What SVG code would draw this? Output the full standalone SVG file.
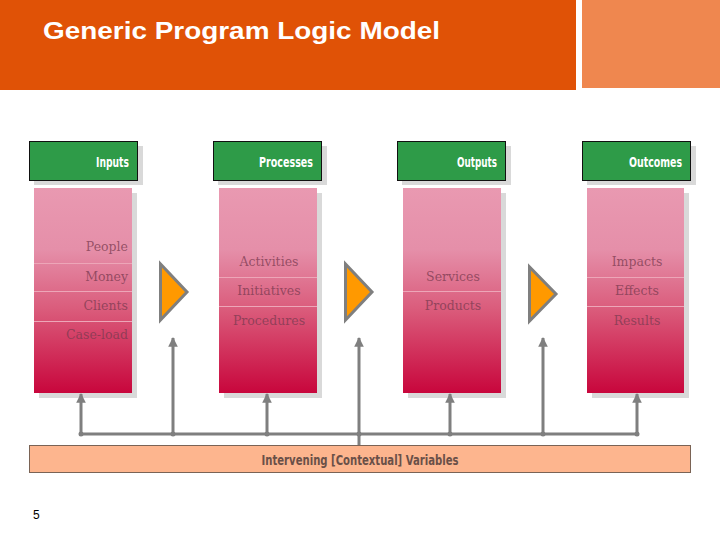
<svg xmlns="http://www.w3.org/2000/svg" width="720" height="540" viewBox="0 0 720 540">
<defs>
<linearGradient id="pink" x1="0" y1="0" x2="0" y2="1">
<stop offset="0" stop-color="#e999b1"/>
<stop offset="0.3" stop-color="#e58fa9"/>
<stop offset="0.6" stop-color="#da5a7a"/>
<stop offset="1" stop-color="#c8063c"/>
</linearGradient>
<marker id="ah" viewBox="0 0 10 10" refX="9" refY="5" markerWidth="3.2" markerHeight="3.2" orient="auto" markerUnits="strokeWidth">
<path d="M0,0 L10,5 L0,10 z" fill="#7f7f7f"/>
</marker>
<style>
.shadow{fill:#d9d9d9}
.hdr{fill:#2e9b48;stroke:#111;stroke-width:1}
.hdrt{font-family:"DejaVu Sans Condensed","DejaVu Sans",sans-serif;font-weight:bold;font-size:14px;fill:#fff;text-anchor:end}
.col{fill:url(#pink)}
.div{stroke:#eda6b8;stroke-width:1}
.item{font-family:"DejaVu Serif","Liberation Serif",serif;font-size:12.5px;fill:#7a3a50;fill-opacity:0.75}
.c{text-anchor:middle}
.r{text-anchor:end}
.tri{fill:#ff9900;stroke:#7f7f7f;stroke-width:3;stroke-linejoin:miter}
.ln{stroke:#7f7f7f;stroke-width:3;fill:none}
.dot{fill:#7f7f7f}
</style>
</defs>
<rect width="720" height="540" fill="#fff"/>
<g id="header">
<rect x="0" y="0" width="576" height="90" fill="#e05206"/>
<rect x="582" y="0" width="138" height="88" fill="#ef874f"/>
<text x="43" y="39" font-family="Liberation Sans, Arial, sans-serif" font-weight="bold" font-size="24" fill="#fff" textLength="397" lengthAdjust="spacingAndGlyphs">Generic Program Logic Model</text>
</g>

<g id="inputs">
<rect class="shadow" x="34" y="146" width="109" height="39"/>
<rect class="hdr" x="29.5" y="141.5" width="108" height="39"/>
<text class="hdrt" x="129" y="166.5" textLength="33" lengthAdjust="spacingAndGlyphs">Inputs</text>
<rect class="shadow" x="39" y="193" width="98" height="205"/>
<rect class="col" x="34" y="188" width="98" height="205"/>
<line class="div" x1="34" y1="263.5" x2="132" y2="263.5"/>
<line class="div" x1="34" y1="291.5" x2="132" y2="291.5"/>
<line class="div" x1="34" y1="321.5" x2="132" y2="321.5"/>
<text class="item r" x="128" y="251">People</text>
<text class="item r" x="128" y="281">Money</text>
<text class="item r" x="128" y="310">Clients</text>
<text class="item r" x="128" y="339">Case-load</text>
</g>

<g id="processes">
<rect class="shadow" x="218" y="146" width="109" height="39"/>
<rect class="hdr" x="213.5" y="141.5" width="108" height="39"/>
<text class="hdrt" x="313" y="166.5" textLength="54" lengthAdjust="spacingAndGlyphs">Processes</text>
<rect class="shadow" x="224" y="193" width="98" height="205"/>
<rect class="col" x="219" y="188" width="98" height="205"/>
<line class="div" x1="219" y1="277.5" x2="317" y2="277.5"/>
<line class="div" x1="219" y1="306.5" x2="317" y2="306.5"/>
<text class="item c" x="269" y="266">Activities</text>
<text class="item c" x="269" y="295">Initiatives</text>
<text class="item c" x="269" y="325">Procedures</text>
</g>

<g id="outputs">
<rect class="shadow" x="402" y="146" width="109" height="39"/>
<rect class="hdr" x="397.5" y="141.5" width="108" height="39"/>
<text class="hdrt" x="497" y="166.5" textLength="40" lengthAdjust="spacingAndGlyphs">Outputs</text>
<rect class="shadow" x="408" y="193" width="98" height="205"/>
<rect class="col" x="403" y="188" width="98" height="205"/>
<line class="div" x1="403" y1="291.5" x2="501" y2="291.5"/>
<text class="item c" x="453" y="281">Services</text>
<text class="item c" x="453" y="310">Products</text>
</g>

<g id="outcomes">
<rect class="shadow" x="587" y="146" width="109" height="39"/>
<rect class="hdr" x="582.5" y="141.5" width="108" height="39"/>
<text class="hdrt" x="682" y="166.5" textLength="53" lengthAdjust="spacingAndGlyphs">Outcomes</text>
<rect class="shadow" x="592" y="193" width="97" height="205"/>
<rect class="col" x="587" y="188" width="97" height="205"/>
<line class="div" x1="587" y1="277.5" x2="684" y2="277.5"/>
<line class="div" x1="587" y1="306.5" x2="684" y2="306.5"/>
<text class="item c" x="637" y="266">Impacts</text>
<text class="item c" x="637" y="295">Effects</text>
<text class="item c" x="637" y="325">Results</text>
</g>

<g id="flow-arrows">
<polygon class="tri" points="160.5,264 160.5,320 187,292"/>
<polygon class="tri" points="345.5,264 345.5,320 372,292"/>
<polygon class="tri" points="529.5,267 529.5,321 556,294"/>
</g>

<g id="intervening">
<rect x="29.5" y="445.5" width="661" height="27" fill="#fdb58e" stroke="#7a6355" stroke-width="1"/>
<text x="360" y="465" text-anchor="middle" font-family="DejaVu Sans Condensed, DejaVu Sans, sans-serif" font-weight="bold" font-size="14" fill="#6a5048" textLength="197" lengthAdjust="spacingAndGlyphs">Intervening [Contextual] Variables</text>
</g>

<g id="connectors">
<line class="ln" x1="81" y1="434" x2="637" y2="434"/>
<line class="ln" x1="359" y1="434" x2="359" y2="445"/>
<line class="ln" x1="81" y1="434" x2="81" y2="394" marker-end="url(#ah)"/>
<line class="ln" x1="267" y1="434" x2="267" y2="394" marker-end="url(#ah)"/>
<line class="ln" x1="450" y1="434" x2="450" y2="394" marker-end="url(#ah)"/>
<line class="ln" x1="637" y1="434" x2="637" y2="394" marker-end="url(#ah)"/>
<line class="ln" x1="173" y1="434" x2="173" y2="338" marker-end="url(#ah)"/>
<line class="ln" x1="359" y1="434" x2="359" y2="338" marker-end="url(#ah)"/>
<line class="ln" x1="543" y1="434" x2="543" y2="338" marker-end="url(#ah)"/>
<circle class="dot" cx="81" cy="434" r="2.5"/>
<circle class="dot" cx="173" cy="434" r="2.5"/>
<circle class="dot" cx="267" cy="434" r="2.5"/>
<circle class="dot" cx="359" cy="434" r="2.5"/>
<circle class="dot" cx="450" cy="434" r="2.5"/>
<circle class="dot" cx="543" cy="434" r="2.5"/>
<circle class="dot" cx="637" cy="434" r="2.5"/>
</g>

<text x="33" y="519" font-family="Liberation Sans, Arial, sans-serif" font-size="12" fill="#000">5</text>
</svg>
